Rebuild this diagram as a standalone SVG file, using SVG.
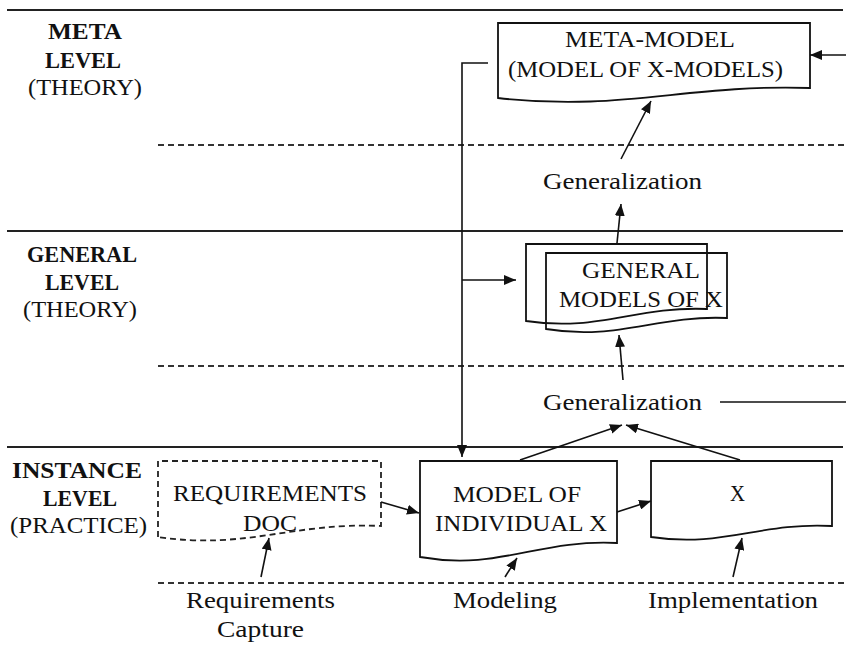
<svg xmlns="http://www.w3.org/2000/svg" width="846" height="645" viewBox="0 0 846 645">
<defs>
<marker id="ah" markerUnits="userSpaceOnUse" markerWidth="12" markerHeight="10" refX="12" refY="5" orient="auto">
<path d="M0,0 L12,5 L0,10 z" fill="#111"/>
</marker>
<style>
text{font-family:"Liberation Serif","Times New Roman",serif;font-size:23px;fill:#111}
.b{font-weight:bold}
.rule{stroke:#222;stroke-width:2;fill:none}
.dash{stroke:#333;stroke-width:1.8;stroke-dasharray:6 4;fill:none}
.doc{stroke:#111;stroke-width:1.8;fill:none}
.ddoc{stroke:#222;stroke-width:1.8;fill:none;stroke-dasharray:6 4}
.c{stroke:#111;stroke-width:1.6;fill:none}
.a{marker-end:url(#ah)}
</style>
</defs>
<rect width="846" height="645" fill="#fff"/>
<g id="levels">
<line class="rule" x1="7" y1="10" x2="843" y2="10"/>
<line class="rule" x1="7" y1="231" x2="843" y2="231"/>
<line class="rule" x1="7" y1="447" x2="843" y2="447"/>
<line class="dash" x1="158" y1="145" x2="846" y2="145"/>
<line class="dash" x1="158" y1="366" x2="846" y2="366"/>
<line class="dash" x1="158" y1="583" x2="846" y2="583"/>
<text class="b" x="48" y="39" textLength="74" lengthAdjust="spacingAndGlyphs">META</text>
<text class="b" x="45" y="68" textLength="76" lengthAdjust="spacingAndGlyphs">LEVEL</text>
<text x="28" y="95" textLength="114" lengthAdjust="spacingAndGlyphs">(THEORY)</text>
<text class="b" x="27" y="262" textLength="110" lengthAdjust="spacingAndGlyphs">GENERAL</text>
<text class="b" x="45" y="290" textLength="74" lengthAdjust="spacingAndGlyphs">LEVEL</text>
<text x="23" y="317" textLength="114" lengthAdjust="spacingAndGlyphs">(THEORY)</text>
<text class="b" x="12" y="478" textLength="130" lengthAdjust="spacingAndGlyphs">INSTANCE</text>
<text class="b" x="43" y="506" textLength="74" lengthAdjust="spacingAndGlyphs">LEVEL</text>
<text x="10" y="533" textLength="137" lengthAdjust="spacingAndGlyphs">(PRACTICE)</text>
</g>
<g id="meta-model">
<path class="doc" d="M498,98 L498,23 L810,23 L810,88 C685,84 623,112 498,98 Z"/>
<text x="565" y="47" textLength="170" lengthAdjust="spacingAndGlyphs">META-MODEL</text>
<text x="508" y="77" textLength="275" lengthAdjust="spacingAndGlyphs">(MODEL OF X-MODELS)</text>
</g>
<g id="generalization-upper">
<text x="543" y="189" textLength="159" lengthAdjust="spacingAndGlyphs">Generalization</text>
</g>
<g id="general-models">
<path class="doc" d="M526,321 L526,244 L707,244 L707,309 C635,306 598,332 526,321 Z"/>
<path class="doc" d="M546,329 L546,253 L727,253 L727,318 C655,315 618,341 546,329 Z"/>
<text x="582" y="278" textLength="118" lengthAdjust="spacingAndGlyphs">GENERAL</text>
<text x="559" y="307" textLength="164" lengthAdjust="spacingAndGlyphs">MODELS OF X</text>
</g>
<g id="generalization-lower">
<text x="543" y="410" textLength="159" lengthAdjust="spacingAndGlyphs">Generalization</text>
</g>
<g id="requirements-doc">
<path class="ddoc" d="M158,537 L158,461 L381,461 L381,526 C292,522 247,550 158,537 Z"/>
<text x="173" y="501" textLength="194" lengthAdjust="spacingAndGlyphs">REQUIREMENTS</text>
<text x="243" y="531" textLength="54" lengthAdjust="spacingAndGlyphs">DOC</text>
</g>
<g id="model-of-individual-x">
<path class="doc" d="M420,557 L420,461 L617,461 L617,543 C538,539 499,571 420,557 Z"/>
<text x="453" y="502" textLength="128" lengthAdjust="spacingAndGlyphs">MODEL OF</text>
<text x="435" y="531" textLength="172" lengthAdjust="spacingAndGlyphs">INDIVIDUAL X</text>
</g>
<g id="x">
<path class="doc" d="M651,537 L651,461 L832,461 L832,526 C760,522 723,548 651,537 Z"/>
<text x="730" y="501" textLength="15" lengthAdjust="spacingAndGlyphs">X</text>
</g>
<g id="requirements-capture">
<text x="186" y="608" textLength="149" lengthAdjust="spacingAndGlyphs">Requirements</text>
<text x="217" y="637" textLength="87" lengthAdjust="spacingAndGlyphs">Capture</text>
</g>
<g id="modeling">
<text x="453" y="608" textLength="104" lengthAdjust="spacingAndGlyphs">Modeling</text>
</g>
<g id="implementation">
<text x="648" y="608" textLength="170" lengthAdjust="spacingAndGlyphs">Implementation</text>
</g>
<g id="connectors">
<path class="c a" d="M846,55 L810,55"/>
<path class="c a" d="M488,63 L462,63 L462,457"/>
<path class="c a" d="M462,280 L516,280"/>
<path class="c a" d="M621,159 L651,101"/>
<path class="c a" d="M617,243 L621,204"/>
<path class="c a" d="M623,380 L619,335"/>
<path class="c a" d="M520,460 L622,425"/>
<path class="c a" d="M740,460 L626,425"/>
<path class="c" d="M720,402 L846,402"/>
<path class="c a" d="M381,502 L419,513"/>
<path class="c a" d="M617,512 L651,501"/>
<path class="c a" d="M261,577 L269,538"/>
<path class="c a" d="M505,577 L517,558"/>
<path class="c a" d="M733,577 L742,538"/>
</g>
</svg>
